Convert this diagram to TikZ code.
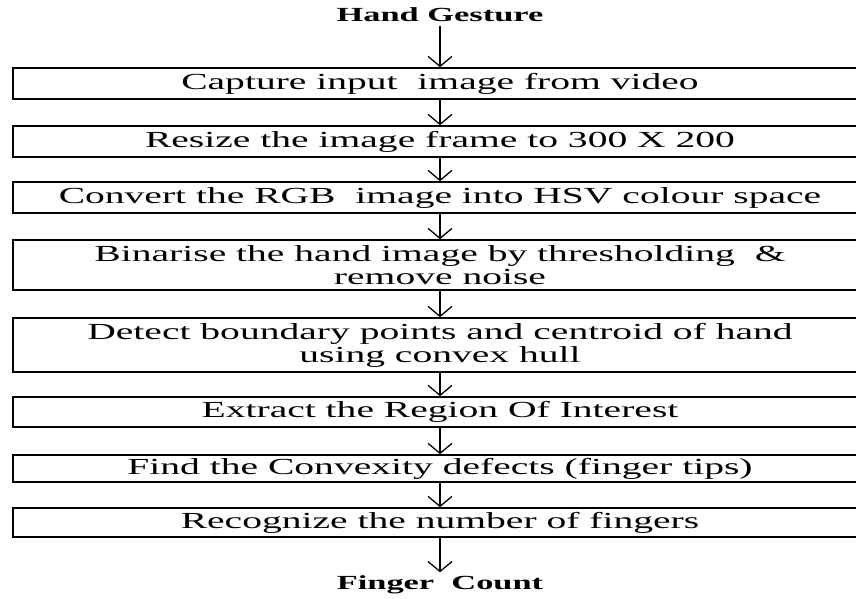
\documentclass[tikz,border=0pt]{standalone}
\usepackage{fontspec}
\setmainfont{Liberation Serif}
\newfontfamily\wideserif[FakeStretch=1.72]{Liberation Serif}
\usetikzlibrary{arrows.meta}
\begin{document}
\begin{tikzpicture}[x=1pt,y=-1pt,
    box/.style={draw, line width=1.6pt, minimum width=854pt, inner sep=0pt, align=center, font=\wideserif\fontsize{23}{23}\selectfont},
    ends/.style={font=\wideserif\fontsize{20}{22}\selectfont\bfseries},
    arr/.style={line width=1.1pt, -{Straight Barb[width=24pt,length=10pt,line width=1.3pt]}}]
        \useasboundingbox (0,0) rectangle (856,598);
        \node[ends] (hg) at (440,15) {Hand Gesture};
        \node[box, minimum height=31pt] (b1) at (440,83.5) {Capture input\ \ image from video};
        \node[box, minimum height=31pt] (b2) at (440,141.5) {Resize the image frame to 300 X 200};
        \node[box, minimum height=31pt] (b3) at (440,197.5) {Convert the RGB\ \ image into HSV colour space};
        \node[box, minimum height=50pt] (b4) at (440,265) {Binarise the hand image by thresholding\ \ \&\\ remove noise};
        \node[box, minimum height=54pt] (b5) at (440,345) {Detect boundary points and centroid of hand\\ using convex hull};
        \node[box, minimum height=30pt] (b6) at (440,412) {Extract the Region Of Interest};
        \node[box, minimum height=27pt] (b7) at (440,468.5) {Find the Convexity defects (finger tips)};
        \node[box, minimum height=29pt] (b8) at (440,522.5) {Recognize the number of fingers};
        \node[ends] (fc) at (440,585) {Finger\ \ Count};
        \foreach \a/\b in {hg/b1,b1/b2,b2/b3,b3/b4,b4/b5,b5/b6,b6/b7,b7/b8,b8/fc}
        {%
            \draw[arr] (\a.south) -- (\b.north);
        }%
    \end{tikzpicture}
\end{document}
